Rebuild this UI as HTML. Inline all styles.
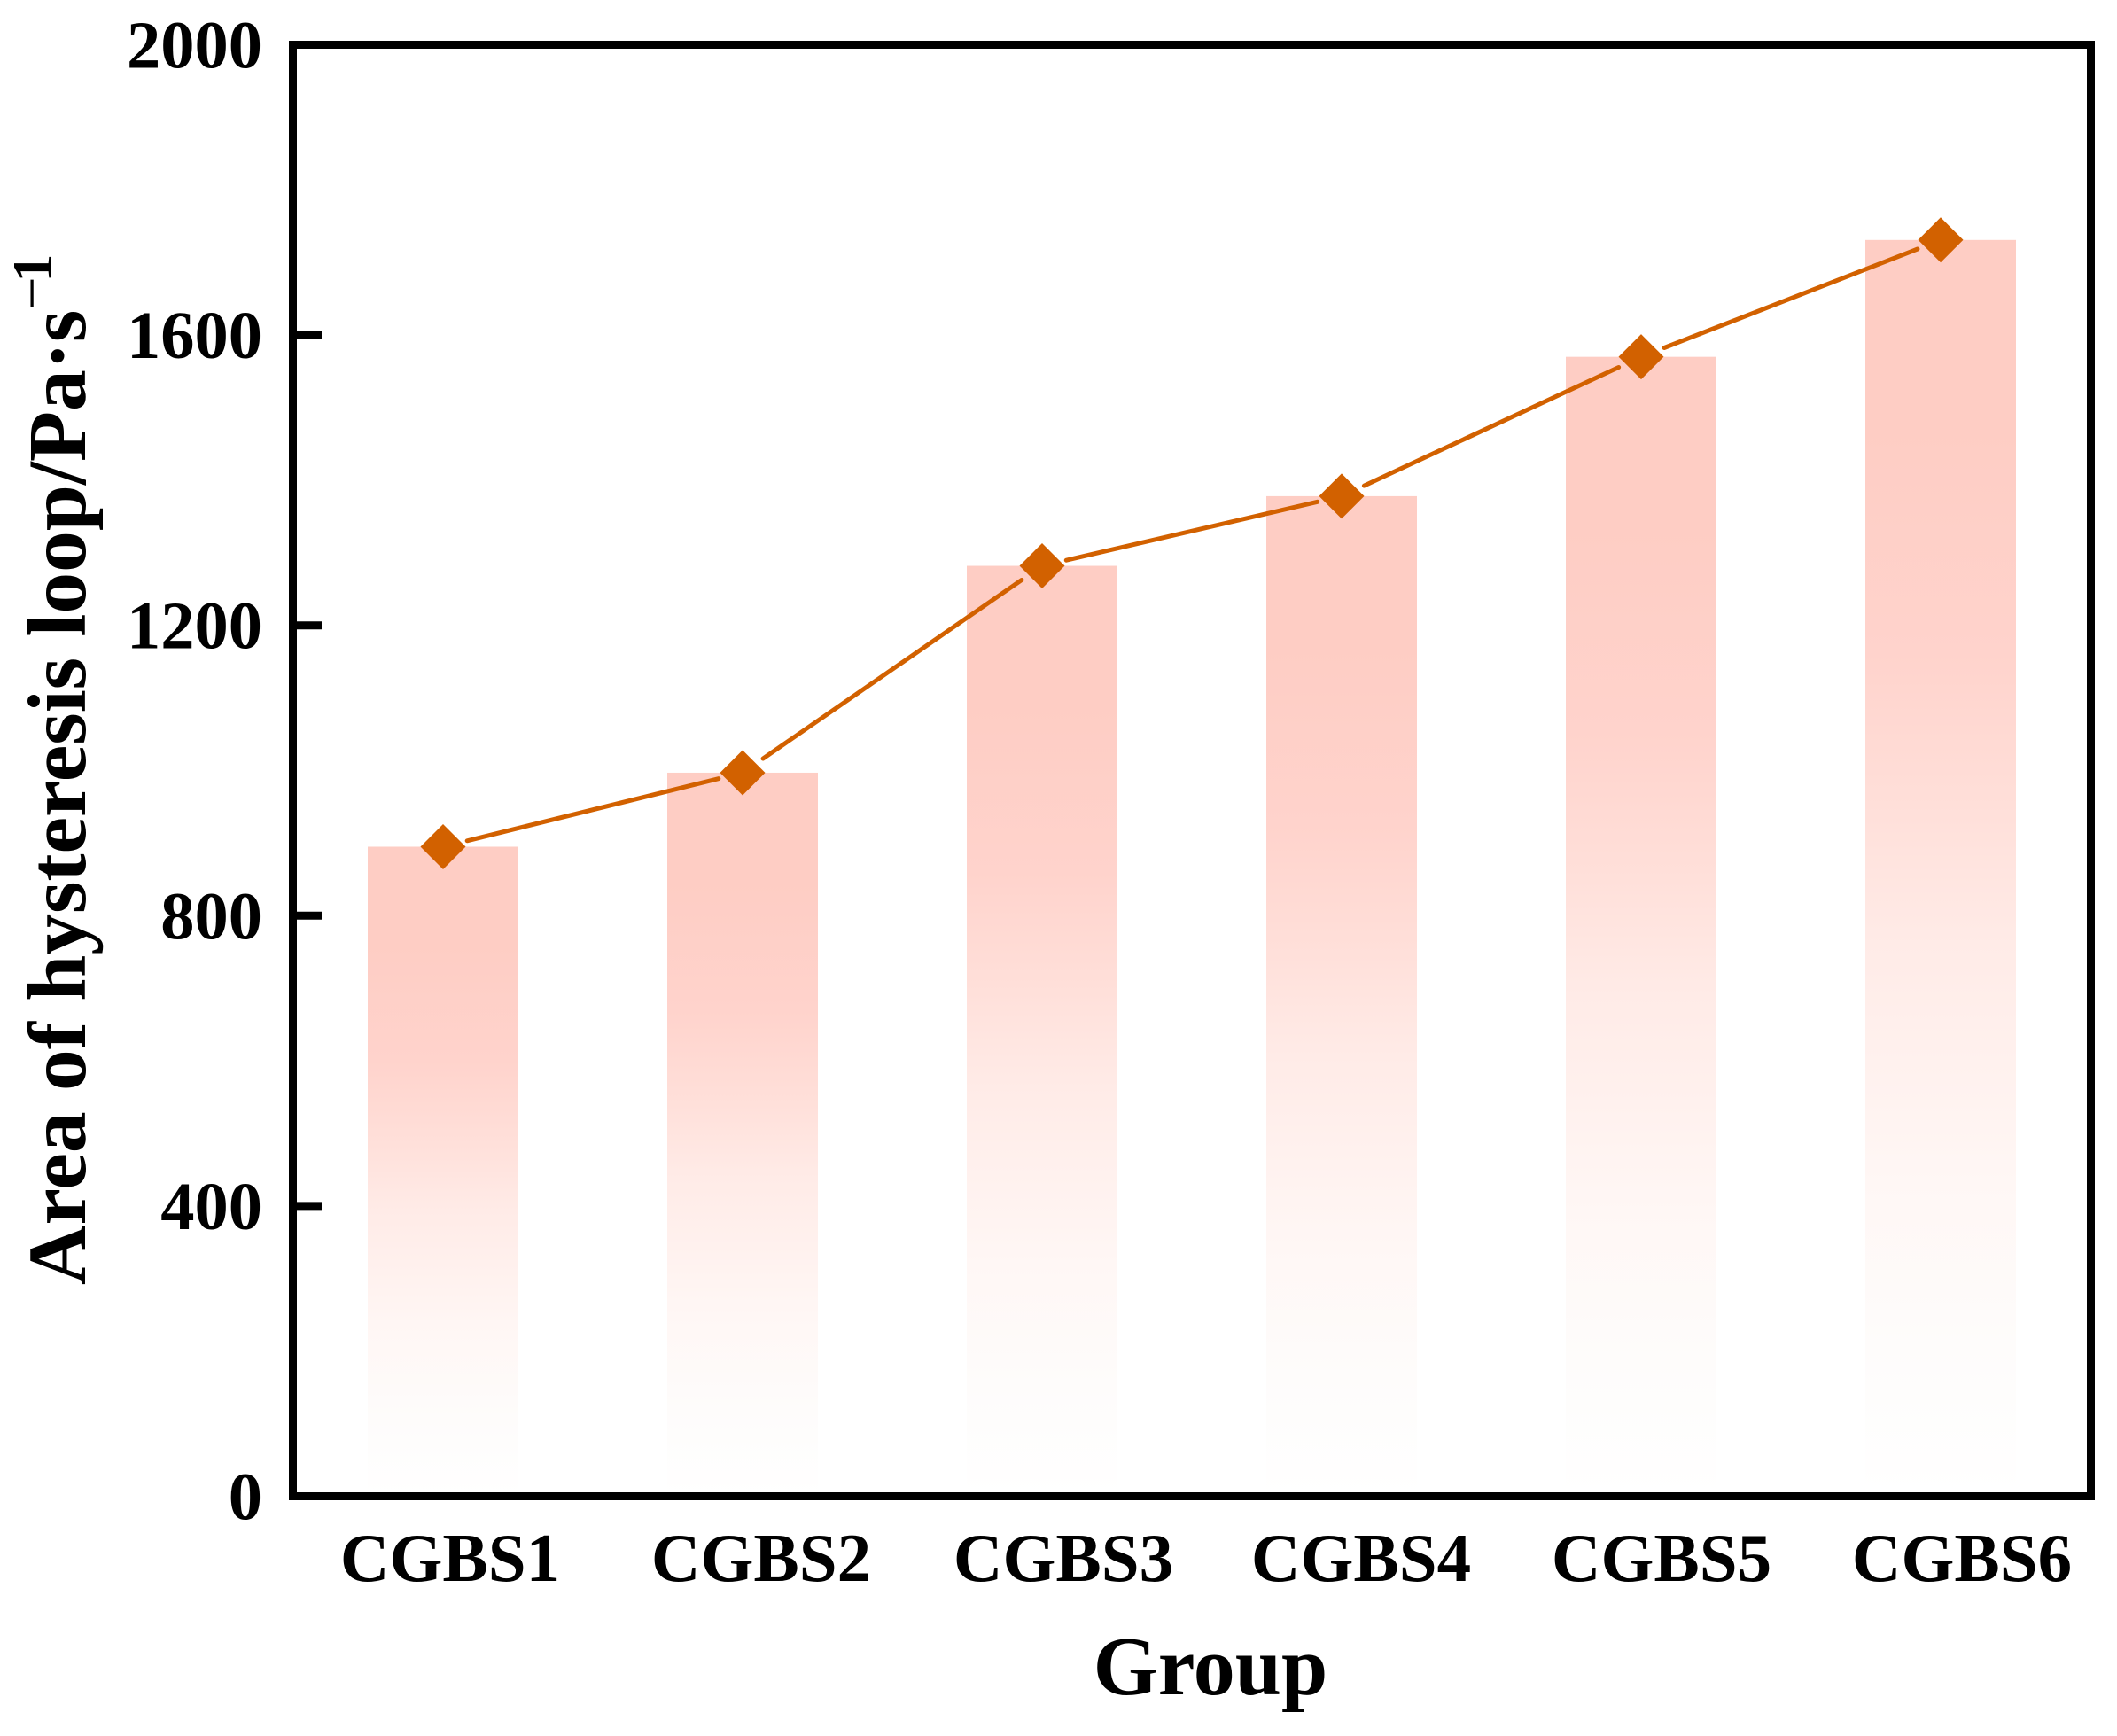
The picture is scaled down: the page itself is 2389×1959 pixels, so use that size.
<!DOCTYPE html>
<html lang="en">
<head>
<meta charset="utf-8">
<title>Area of hysteresis loop by group</title>
<style>
html,body{margin:0;padding:0;background:#fff}
svg{display:block}
text{font-family:"Liberation Serif",serif;font-weight:bold;fill:#000}
</style>
</head>
<body>
<svg id="chart" xmlns="http://www.w3.org/2000/svg" width="2389" height="1959" viewBox="0 0 2389 1959">
  <rect x="0" y="0" width="2389" height="1959" fill="#ffffff"/>
  <defs>
    <linearGradient id="barFade" x1="0" y1="0" x2="0" y2="1">
      <stop offset="0" stop-color="#fecdc4"/>
      <stop offset="0.15" stop-color="#fecdc4"/>
      <stop offset="0.33" stop-color="#ffd3cc"/>
      <stop offset="0.45" stop-color="#ffdfd9"/>
      <stop offset="0.56" stop-color="#ffebe7"/>
      <stop offset="0.75" stop-color="#fff7f5"/>
      <stop offset="0.88" stop-color="#fefcfb"/>
      <stop offset="1" stop-color="#ffffff"/>
    </linearGradient>
  </defs>
  <g id="bars"></g>
  <g id="line"></g>
  <g id="markers"></g>
  <g id="ticks"></g>
  <rect x="330.5" y="50.5" width="2029" height="1638" fill="none" stroke="#000" stroke-width="9"/>
  <g id="xlabels"></g>
  <text x="1366" y="1912" font-size="94" text-anchor="middle">Group</text>
  <text transform="translate(96,1450) rotate(-90)" font-size="93.5">Area of hysteresis loop/Pa·s<tspan dx="0" dy="-38" font-size="66" style="font-weight:normal">−</tspan><tspan dx="-6" font-size="64">1</tspan></text>
</svg>
<script>
var categories = ["CGBS1", "CGBS2", "CGBS3", "CGBS4", "CGBS5", "CGBS6"];
var seriesValues = [895, 997, 1282, 1378, 1570, 1731];
var yTickValues = [0, 400, 800, 1200, 1600, 2000];
var yMax = 2000;

var SVG_NS = "http://www.w3.org/2000/svg";
var plot = { top: 50.5, bottom: 1688.5, firstX: 500, stepX: 338, barWidth: 170 };
var labelNudge = [8, 21, 24, 22, 23, 24];
var lineGap = 28;
var markerRadius = 25.5;

function xScale(i) { return plot.firstX + i * plot.stepX; }
function yScale(v) { return plot.bottom - (v / yMax) * (plot.bottom - plot.top); }
function make(tag, parentId) {
  var el = document.createElementNS(SVG_NS, tag);
  document.getElementById(parentId).appendChild(el);
  return el;
}

seriesValues.forEach(function (v, i) {
  var bar = make("rect", "bars");
  
  
  bar.setAttribute("x", xScale(i) - plot.barWidth / 2);
  bar.setAttribute("y", yScale(v));
  bar.setAttribute("width", plot.barWidth);
  bar.setAttribute("height", yScale(0) - yScale(v));
  bar.setAttribute("fill", "url(#barFade)");
});

for (var s = 0; s < seriesValues.length - 1; s++) {
  var x1 = xScale(s), y1 = yScale(seriesValues[s]);
  var x2 = xScale(s + 1), y2 = yScale(seriesValues[s + 1]);
  var len = Math.sqrt((x2 - x1) * (x2 - x1) + (y2 - y1) * (y2 - y1));
  var ux = (x2 - x1) / len, uy = (y2 - y1) / len;
  var seg = make("line", "line");
  
  
  seg.setAttribute("x1", x1 + ux * lineGap);
  seg.setAttribute("y1", y1 + uy * lineGap);
  seg.setAttribute("x2", x2 - ux * lineGap);
  seg.setAttribute("y2", y2 - uy * lineGap);
  seg.setAttribute("stroke", "#d26100");
  seg.setAttribute("stroke-width", "5");
  seg.setAttribute("stroke-linecap", "round");
}

seriesValues.forEach(function (v, i) {
  var cx = xScale(i), cy = yScale(v), r = markerRadius;
  var m = make("polygon", "markers");
  
  
  m.setAttribute("points", [cx, cy - r, cx + r, cy, cx, cy + r, cx - r, cy].join(" "));
  m.setAttribute("fill", "#d26100");
});

yTickValues.forEach(function (v) {
  if (v !== 0 && v !== yMax) {
    var t = make("line", "ticks");
    
    
    t.setAttribute("x1", 335);
    t.setAttribute("x2", 363);
    t.setAttribute("y1", yScale(v));
    t.setAttribute("y2", yScale(v));
    t.setAttribute("stroke", "#000");
    t.setAttribute("stroke-width", "9");
  }
  var lab = make("text", "ticks");
  
  
  lab.setAttribute("x", 296);
  lab.setAttribute("y", yScale(v) + 26);
  lab.setAttribute("font-size", "76.5");
  lab.setAttribute("text-anchor", "end");
  lab.textContent = v;
});

categories.forEach(function (c, i) {
  var lab = make("text", "xlabels");
  
  
  lab.setAttribute("x", xScale(i) + labelNudge[i]);
  lab.setAttribute("y", 1784);
  lab.setAttribute("font-size", "77");
  lab.setAttribute("text-anchor", "middle");
  lab.textContent = c;
});
</script>
</body>
</html>
